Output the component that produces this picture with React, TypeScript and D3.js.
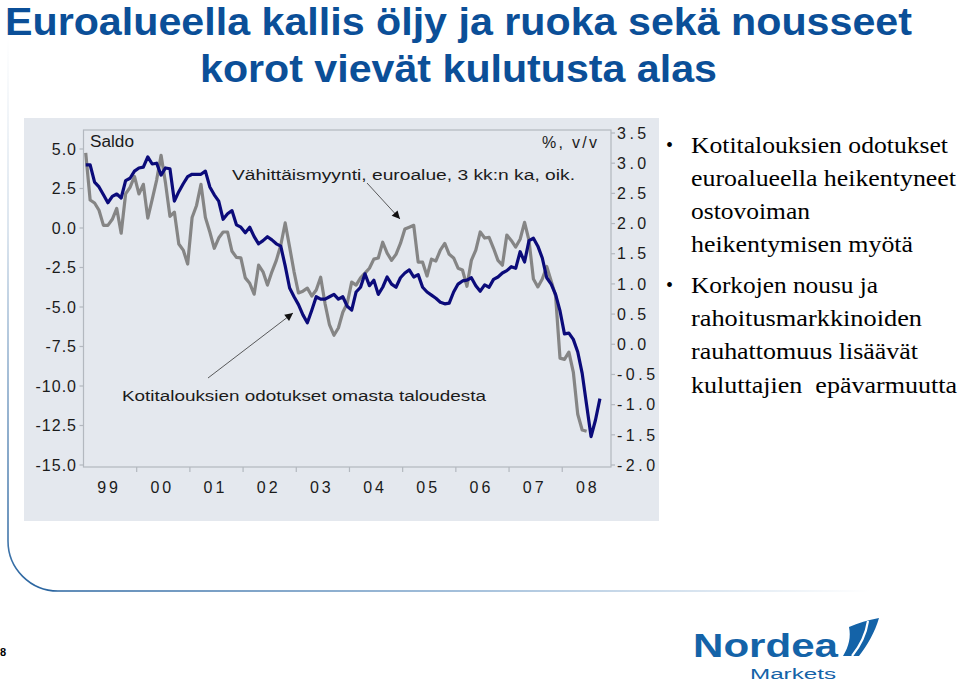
import React from 'react';
import * as d3 from 'd3';

// ---------- data ----------
const yearLabels = ['99', '00', '01', '02', '03', '04', '05', '06', '07', '08'];
const leftTicks = [5, 2.5, 0, -2.5, -5, -7.5, -10, -12.5, -15];
const rightTicks = [3.5, 3, 2.5, 2, 1.5, 1, 0.5, 0, -0.5, -1, -1.5, -2];

// Kotitalouksien odotukset omasta taloudesta (saldo, left axis), monthly from Jan 1999
const expectations = [
  4.0, 4.0, 2.9, 2.6, 2.1, 1.6, 2.0, 2.15, 1.9, 3.0,
  3.15, 3.6, 3.8, 3.85, 4.5, 4.05, 4.1, 3.35, 3.8, 3.75,
  1.7, 2.3, 2.8, 3.25, 3.4, 3.4, 3.4, 3.6, 2.6, 2.1,
  1.7, 0.55, 0.9, 1.1, 0.2, 0.05, -0.3, 0.05, -0.55, -1.0,
  -0.8, -0.55, -0.75, -1.0, -1.15, -2.4, -3.8, -4.35, -4.85, -5.5,
  -6.0, -5.2, -4.35, -4.5, -4.5, -4.35, -4.2, -4.5, -4.35, -4.95,
  -5.2, -4.05, -3.75, -2.9, -3.65, -3.3, -4.2, -3.75, -3.1, -3.55,
  -3.75, -3.15, -2.85, -2.65, -3.1, -2.95, -3.75, -4.05, -4.25, -4.45,
  -4.7, -4.8, -4.75, -4.05, -3.55, -3.35, -3.3, -3.15, -3.65, -4.0,
  -3.6, -3.75, -3.25, -3.1, -2.85, -2.7, -2.45, -2.55, -1.5, -2.15,
  -0.8, -0.65, -1.15, -1.9, -3.15, -3.55, -4.2, -5.25, -6.7, -6.65,
  -7.05, -7.85, -9.2, -11.2, -13.2, -12.15, -10.8,
];

// Vähittäismyynti, euroalue, 3 kk:n ka (% v/v, right axis), monthly from Jan 1999
const retailSales = [
  3.17, 2.39, 2.34, 2.22, 1.97, 1.97, 2.07, 2.25, 1.84, 2.49,
  2.6, 2.78, 2.49, 2.65, 2.09, 2.4, 2.72, 3.13, 2.67, 2.12,
  2.19, 1.66, 1.56, 1.33, 2.1, 2.3, 2.65, 2.1, 1.86, 1.59,
  1.76, 1.86, 1.86, 1.54, 1.44, 1.43, 1.1, 1.01, 0.83, 1.31,
  1.2, 0.98, 1.2, 1.39, 1.64, 2.01, 1.61, 1.2, 0.85, 0.88,
  0.93, 0.8, 0.9, 1.11, 0.67, 0.32, 0.15, 0.27, 0.53, 0.68,
  1.03, 0.98, 1.1, 1.18, 1.26, 1.41, 1.43, 1.69, 1.51, 1.39,
  1.49, 1.67, 1.91, 1.94, 1.97, 1.36, 1.36, 1.13, 1.41, 1.38,
  1.56, 1.67, 1.49, 1.43, 1.26, 1.23, 0.96, 1.39, 1.56, 1.86,
  1.76, 1.77, 1.59, 1.39, 1.31, 1.81, 1.72, 1.61, 1.74, 2.02,
  1.72, 1.08, 0.95, 1.08, 1.29, 1.05, 0.8, -0.23, -0.25, -0.13,
  -0.46, -1.16, -1.42, -1.44,
];

const titleLines = ['Euroalueella kallis öljy ja ruoka sekä nousseet', 'korot vievät kulutusta alas'];
const bulletLines = [
  { text: 'Kotitalouksien odotukset', bullet: true, w: 257 },
  { text: 'euroalueella heikentyneet', bullet: false, w: 265 },
  { text: 'ostovoiman', bullet: false, w: 119 },
  { text: 'heikentymisen myötä', bullet: false, w: 222 },
  { text: 'Korkojen nousu ja', bullet: true, w: 187 },
  { text: 'rahoitusmarkkinoiden', bullet: false, w: 231 },
  { text: 'rauhattomuus lisäävät', bullet: false, w: 227 },
  { text: 'kuluttajien  epävarmuutta', bullet: false, w: 266 },
];

const fmt = (v: number) => v.toFixed(1);

export default function App() {
  const plot = { left: 83.5, right: 611, top: 130, bottom: 467 };
  const x = d3.scaleLinear().domain([0, 119]).range([plot.left, plot.right]);
  const yL = d3.scaleLinear().domain([-15, 5]).range([465, 149]);
  const yR = d3.scaleLinear().domain([-2, 3.5]).range([465, 133]);

  const lineL = d3.line<number>().x((_, i) => x(i + 0.5)).y((d) => yL(d));
  const lineR = d3.line<number>().x((_, i) => x(i + 0.5)).y((d) => yR(d));

  const sans = "'Liberation Sans', Arial, sans-serif";
  const serif = "'Liberation Serif', 'Times New Roman', serif";
  const axisCol = '#b3b8bf';
  const txt = '#1b1b1b';

  return (
    <svg
      width={960}
      height={682}
      viewBox="0 0 960 682"
      style={{ position: 'absolute', left: 0, top: 0, background: '#ffffff' }}
    >
      <defs>
        <linearGradient id="vgrad" gradientUnits="userSpaceOnUse" x1="0" y1="36" x2="0" y2="591">
          <stop offset="0" stopColor="#ffffff" />
          <stop offset="0.35" stopColor="#d3dfeb" />
          <stop offset="1" stopColor="#2a65a0" />
        </linearGradient>
        <linearGradient id="hgrad" gradientUnits="userSpaceOnUse" x1="58" y1="0" x2="870" y2="0">
          <stop offset="0" stopColor="#2a65a0" />
          <stop offset="0.5" stopColor="#86abcf" />
          <stop offset="1" stopColor="#ffffff" />
        </linearGradient>
        <marker id="ah" viewBox="0 0 10 10" refX="10" refY="5" markerWidth="9" markerHeight="8" markerUnits="userSpaceOnUse" orient="auto">
          <path d="M0,0 L10,5 L0,10 z" fill="#111" />
        </marker>
      </defs>

      {/* slide decoration */}
      <path d="M 8 36 L 8 541 A 50 50 0 0 0 58 591" fill="none" stroke="url(#vgrad)" strokeWidth={1.6} />
      <path d="M 58 591 L 870 591" fill="none" stroke="url(#hgrad)" strokeWidth={1.6} />

      {/* title */}
      {titleLines.map((t, i) => (
        <text
          key={t}
          x={i === 0 ? 5 : 200}
          y={i === 0 ? 35 : 82}
          textLength={i === 0 ? 907 : 517}
          lengthAdjust="spacingAndGlyphs"
          fontFamily="'Liberation Sans Narrow', 'Arial Narrow', 'Liberation Sans', sans-serif"
          fontWeight="bold"
          fontSize={38}
          fill="#0b4f98"
        >
          {t}
        </text>
      ))}

      {/* chart panel */}
      <rect x={24} y={118} width={635} height={403} fill="#e4e8ee" />

      {/* plot frame */}
      <rect
        x={plot.left}
        y={plot.top}
        width={plot.right - plot.left}
        height={plot.bottom - plot.top}
        fill="none"
        stroke={axisCol}
        strokeWidth={1.2}
      />

      {/* left axis */}
      {leftTicks.map((v) => (
        <g key={'l' + v}>
          <line x1={plot.left - 4} x2={plot.left} y1={yL(v)} y2={yL(v)} stroke={axisCol} strokeWidth={1.2} />
          <text
            x={77}
            y={yL(v)}
            dy="0.36em"
            textAnchor="end"
            fontFamily={sans}
            fontSize={16}
            letterSpacing={1}
            fill={txt}
          >
            {fmt(v)}
          </text>
        </g>
      ))}

      {/* right axis */}
      {rightTicks.map((v) => (
        <g key={'r' + v}>
          <line x1={plot.right} x2={plot.right + 4} y1={yR(v)} y2={yR(v)} stroke={axisCol} strokeWidth={1.2} />
          <text
            x={617}
            y={yR(v)}
            dy="0.36em"
            textAnchor="start"
            fontFamily={sans}
            fontSize={16}
            letterSpacing={3.5}
            fill={txt}
          >
            {fmt(v)}
          </text>
        </g>
      ))}

      {/* bottom axis */}
      {yearLabels.map((lab, k) => (
        <g key={'y' + lab}>
          {k > 0 && (
            <line x1={x(12 * k)} x2={x(12 * k)} y1={plot.bottom} y2={plot.bottom + 5} stroke={axisCol} strokeWidth={1.2} />
          )}
          <text
            x={x(12 * k + 6) - 1}
            y={493}
            textAnchor="middle"
            fontFamily={sans}
            fontSize={16}
            letterSpacing={3}
            fill={txt}
          >
            {lab}
          </text>
        </g>
      ))}

      {/* series */}
      <path d={lineR(retailSales) || ''} fill="none" stroke="#858585" strokeWidth={3.2} strokeLinejoin="round" />
      <path d={lineL(expectations) || ''} fill="none" stroke="#0b0b7a" strokeWidth={3.2} strokeLinejoin="round" />

      {/* annotations */}
      <text x={90} y={147} fontFamily={sans} fontSize={16} fill={txt} textLength={44} lengthAdjust="spacingAndGlyphs">
        Saldo
      </text>
      <text x={542} y={148} fontFamily={sans} fontSize={16} fill={txt} textLength={55} lengthAdjust="spacing">
        %, v/v
      </text>
      <text x={232} y={180} fontFamily={sans} fontSize={15.5} fill={txt} textLength={343} lengthAdjust="spacingAndGlyphs">
        Vähittäismyynti, euroalue, 3 kk:n ka, oik.
      </text>
      <text x={122} y={401} fontFamily={sans} fontSize={15.5} fill={txt} textLength={364} lengthAdjust="spacingAndGlyphs">
        Kotitalouksien odotukset omasta taloudesta
      </text>
      <line x1={367} y1={183} x2={400} y2={219} stroke="#333" strokeWidth={0.8} markerEnd="url(#ah)" />
      <line x1={208} y1={378} x2={293} y2={313} stroke="#333" strokeWidth={0.8} markerEnd="url(#ah)" />

      {/* bullet text */}
      {bulletLines.map((b, i) => {
        const y = 152.5 + i * 33.3 + (i >= 4 ? 7 : 0);
        return (
          <g key={b.text}>
            {b.bullet && (
              <text x={666} y={y - 1} fontFamily={serif} fontSize={20} fill="#000">
                •
              </text>
            )}
            <text
              x={691}
              y={y}
              fontFamily={serif}
              fontSize={23}
              fill="#000"
              textLength={b.w}
              lengthAdjust="spacingAndGlyphs"
              style={{ whiteSpace: 'pre' }}
            >
              {b.text}
            </text>
          </g>
        );
      })}

      {/* page number */}
      <text x={0} y={656} fontFamily={sans} fontWeight="bold" fontSize={11} fill="#000">
        8
      </text>

      {/* logo */}
      <text
        x={693}
        y={657}
        fontFamily="'Liberation Sans', Arial, sans-serif"
        fontWeight="bold"
        fontSize={33}
        fill="#1463a8"
        textLength={145}
        lengthAdjust="spacingAndGlyphs"
      >
        Nordea
      </text>
      <text
        x={750}
        y={678.5}
        fontFamily="'Liberation Sans', Arial, sans-serif"
        fontSize={15.5}
        fill="#1463a8"
        textLength={86}
        lengthAdjust="spacingAndGlyphs"
      >
        Markets
      </text>
      <path
        d="M 849 627 C 858 623, 868 620, 879 618 C 875 632, 867 646, 859 656 L 843 656 C 849 646, 851 637, 849 627 Z"
        fill="#1463a8"
      />
      <path d="M 868 621 C 866 634, 860 646, 852 656" fill="none" stroke="#ffffff" strokeWidth={2.2} />
    </svg>
  );
}
